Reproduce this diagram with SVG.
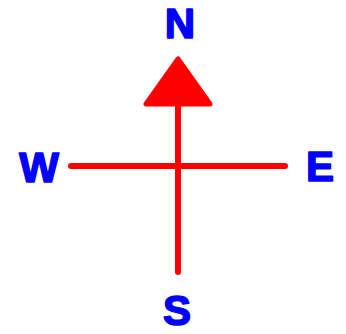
<svg xmlns="http://www.w3.org/2000/svg" width="346" height="334" viewBox="0 0 346 334">
<style>
.lbl{font-family:"Liberation Sans",Arial,sans-serif;font-weight:bold;font-size:42px;fill:#0000ff;stroke:#0000ff;stroke-width:1.6;stroke-linejoin:round;text-anchor:middle}
.ln{stroke:#ff0000;stroke-width:6;stroke-linecap:round;fill:none}
</style>
<g id="connectors">
<line class="ln" x1="178" y1="100" x2="178" y2="272"/>
<line class="ln" x1="71" y1="166" x2="285" y2="166"/>
</g>
<g id="arrow"><polygon points="178,59 146,104 210,104" fill="#ff0000" stroke="#ff0000" stroke-width="5" stroke-linejoin="round"/></g>
<g id="N"><text class="lbl" x="180" y="38">N</text></g>
<g id="W"><text class="lbl" x="39" y="182">W</text></g>
<g id="E"><text class="lbl" x="320" y="181">E</text></g>
<g id="S"><text class="lbl" x="177" y="325">S</text></g>
</svg>
